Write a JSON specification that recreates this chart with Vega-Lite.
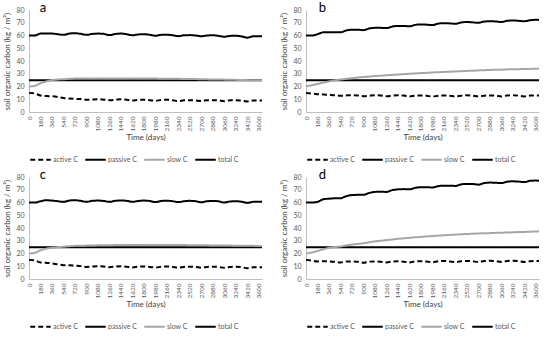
{
  "$schema": "https://vega.github.io/schema/vega-lite/v6.json",
  "padding": {"left": 3, "top": 2, "right": 2, "bottom": 0},
  "background": "white",
  "config": {
    "font": "Lato",
    "view": {"stroke": null},
    "axis": {"grid": false, "ticks": false, "domainColor": "#bfbfbf", "domainWidth": 1, "labelColor": "#595959", "labelFontSize": 7, "titleFontSize": 8, "titleFontWeight": "normal", "titleColor": "#404040"},
    "legend": {"orient": "bottom", "direction": "horizontal", "title": null, "symbolType": "stroke", "symbolSize": 420, "labelFontSize": 7, "labelColor": "#595959", "columnPadding": 3, "labelOffset": 1, "offset": 6}
  },
  "datasets": {
    "soc": [
      {"p":"a","day":0,"active C":15,"passive C":25,"slow C":20,"total C":60},
      {"p":"a","day":90,"active C":14.5,"passive C":25,"slow C":20.5,"total C":60},
      {"p":"a","day":180,"active C":13,"passive C":25,"slow C":22.5,"total C":61.5},
      {"p":"a","day":270,"active C":12.5,"passive C":25,"slow C":24,"total C":61.5},
      {"p":"a","day":360,"active C":12.3,"passive C":25,"slow C":25,"total C":61.5},
      {"p":"a","day":450,"active C":11.8,"passive C":25,"slow C":25.5,"total C":61},
      {"p":"a","day":540,"active C":11,"passive C":25,"slow C":25.7,"total C":60.5},
      {"p":"a","day":630,"active C":10.5,"passive C":25,"slow C":26,"total C":61.5},
      {"p":"a","day":720,"active C":10.3,"passive C":25,"slow C":26.2,"total C":61.8},
      {"p":"a","day":810,"active C":10.2,"passive C":25,"slow C":26.2,"total C":61.3},
      {"p":"a","day":900,"active C":9.6,"passive C":25,"slow C":26.3,"total C":60.5},
      {"p":"a","day":990,"active C":9.8,"passive C":25,"slow C":26.3,"total C":61.2},
      {"p":"a","day":1080,"active C":10,"passive C":25,"slow C":26.3,"total C":61.5},
      {"p":"a","day":1170,"active C":9.7,"passive C":25,"slow C":26.3,"total C":61.3},
      {"p":"a","day":1260,"active C":9.3,"passive C":25,"slow C":26.3,"total C":60.3},
      {"p":"a","day":1350,"active C":9.6,"passive C":25,"slow C":26.3,"total C":61.2},
      {"p":"a","day":1440,"active C":10,"passive C":25,"slow C":26.3,"total C":61.5},
      {"p":"a","day":1530,"active C":9.6,"passive C":25,"slow C":26.3,"total C":61},
      {"p":"a","day":1620,"active C":9,"passive C":25,"slow C":26.3,"total C":60.2},
      {"p":"a","day":1710,"active C":9.5,"passive C":25,"slow C":26.3,"total C":60.8},
      {"p":"a","day":1800,"active C":9.6,"passive C":25,"slow C":26.2,"total C":61},
      {"p":"a","day":1890,"active C":9.3,"passive C":25,"slow C":26.2,"total C":60.6},
      {"p":"a","day":1980,"active C":8.8,"passive C":25,"slow C":26.2,"total C":59.8},
      {"p":"a","day":2070,"active C":9.4,"passive C":25,"slow C":26.1,"total C":60.5},
      {"p":"a","day":2160,"active C":9.6,"passive C":25,"slow C":26.1,"total C":60.6},
      {"p":"a","day":2250,"active C":9.2,"passive C":25,"slow C":26,"total C":60.2},
      {"p":"a","day":2340,"active C":8.6,"passive C":25,"slow C":26,"total C":59.5},
      {"p":"a","day":2430,"active C":9.2,"passive C":25,"slow C":25.9,"total C":60.2},
      {"p":"a","day":2520,"active C":9.3,"passive C":25,"slow C":25.8,"total C":60.3},
      {"p":"a","day":2610,"active C":9.1,"passive C":25,"slow C":25.8,"total C":60},
      {"p":"a","day":2700,"active C":8.7,"passive C":25,"slow C":25.7,"total C":59.4},
      {"p":"a","day":2790,"active C":9.2,"passive C":25,"slow C":25.6,"total C":60},
      {"p":"a","day":2880,"active C":9.3,"passive C":25,"slow C":25.5,"total C":60.2},
      {"p":"a","day":2970,"active C":9.1,"passive C":25,"slow C":25.5,"total C":59.7},
      {"p":"a","day":3060,"active C":8.5,"passive C":25,"slow C":25.4,"total C":59},
      {"p":"a","day":3150,"active C":9.2,"passive C":25,"slow C":25.3,"total C":59.7},
      {"p":"a","day":3240,"active C":9.3,"passive C":25,"slow C":25.2,"total C":59.8},
      {"p":"a","day":3330,"active C":9,"passive C":25,"slow C":25.1,"total C":59.3},
      {"p":"a","day":3420,"active C":8.3,"passive C":25,"slow C":25,"total C":58.3},
      {"p":"a","day":3510,"active C":9,"passive C":25,"slow C":25,"total C":59.4},
      {"p":"a","day":3600,"active C":9,"passive C":25,"slow C":24.9,"total C":59.4},
      {"p":"a","day":3650,"active C":9,"passive C":25,"slow C":24.9,"total C":59.5},

      {"p":"b","day":0,"active C":15,"passive C":25,"slow C":20,"total C":60},
      {"p":"b","day":90,"active C":14.5,"passive C":25,"slow C":21,"total C":60},
      {"p":"b","day":180,"active C":14,"passive C":25,"slow C":22,"total C":61},
      {"p":"b","day":270,"active C":13.8,"passive C":25,"slow C":23,"total C":62.5},
      {"p":"b","day":360,"active C":13.5,"passive C":25,"slow C":24,"total C":62.5},
      {"p":"b","day":450,"active C":13.2,"passive C":25,"slow C":24.8,"total C":62.5},
      {"p":"b","day":540,"active C":12.7,"passive C":25,"slow C":25.5,"total C":62.5},
      {"p":"b","day":630,"active C":13,"passive C":25,"slow C":26,"total C":64},
      {"p":"b","day":720,"active C":13.2,"passive C":25,"slow C":26.5,"total C":64.5},
      {"p":"b","day":810,"active C":13,"passive C":25,"slow C":27,"total C":64.5},
      {"p":"b","day":900,"active C":12.4,"passive C":25,"slow C":27.5,"total C":64.2},
      {"p":"b","day":990,"active C":12.8,"passive C":25,"slow C":27.8,"total C":65.5},
      {"p":"b","day":1080,"active C":13.1,"passive C":25,"slow C":28.2,"total C":66},
      {"p":"b","day":1170,"active C":12.9,"passive C":25,"slow C":28.5,"total C":66},
      {"p":"b","day":1260,"active C":12.3,"passive C":25,"slow C":28.8,"total C":65.8},
      {"p":"b","day":1350,"active C":12.8,"passive C":25,"slow C":29.1,"total C":67},
      {"p":"b","day":1440,"active C":13.1,"passive C":25,"slow C":29.4,"total C":67.5},
      {"p":"b","day":1530,"active C":12.9,"passive C":25,"slow C":29.7,"total C":67.5},
      {"p":"b","day":1620,"active C":12.2,"passive C":25,"slow C":30,"total C":67.2},
      {"p":"b","day":1710,"active C":12.8,"passive C":25,"slow C":30.2,"total C":68.3},
      {"p":"b","day":1800,"active C":13,"passive C":25,"slow C":30.5,"total C":68.7},
      {"p":"b","day":1890,"active C":12.8,"passive C":25,"slow C":30.7,"total C":68.5},
      {"p":"b","day":1980,"active C":12.1,"passive C":25,"slow C":31,"total C":68.2},
      {"p":"b","day":2070,"active C":12.8,"passive C":25,"slow C":31.2,"total C":69.3},
      {"p":"b","day":2160,"active C":13,"passive C":25,"slow C":31.4,"total C":69.7},
      {"p":"b","day":2250,"active C":12.8,"passive C":25,"slow C":31.6,"total C":69.5},
      {"p":"b","day":2340,"active C":12.2,"passive C":25,"slow C":31.8,"total C":69.2},
      {"p":"b","day":2430,"active C":12.8,"passive C":25,"slow C":32,"total C":70.2},
      {"p":"b","day":2520,"active C":13.1,"passive C":25,"slow C":32.2,"total C":70.6},
      {"p":"b","day":2610,"active C":12.8,"passive C":25,"slow C":32.4,"total C":70.3},
      {"p":"b","day":2700,"active C":12.2,"passive C":25,"slow C":32.6,"total C":70},
      {"p":"b","day":2790,"active C":12.8,"passive C":25,"slow C":32.8,"total C":70.9},
      {"p":"b","day":2880,"active C":13,"passive C":25,"slow C":33,"total C":71.2},
      {"p":"b","day":2970,"active C":12.8,"passive C":25,"slow C":33.1,"total C":71},
      {"p":"b","day":3060,"active C":12.2,"passive C":25,"slow C":33.2,"total C":70.6},
      {"p":"b","day":3150,"active C":12.9,"passive C":25,"slow C":33.4,"total C":71.5},
      {"p":"b","day":3240,"active C":13.1,"passive C":25,"slow C":33.5,"total C":71.8},
      {"p":"b","day":3330,"active C":12.8,"passive C":25,"slow C":33.6,"total C":71.5},
      {"p":"b","day":3420,"active C":12.2,"passive C":25,"slow C":33.7,"total C":71.2},
      {"p":"b","day":3510,"active C":12.9,"passive C":25,"slow C":33.8,"total C":72},
      {"p":"b","day":3600,"active C":13,"passive C":25,"slow C":34,"total C":72.3},
      {"p":"b","day":3650,"active C":13,"passive C":25,"slow C":34,"total C":72.2},

      {"p":"c","day":0,"active C":15,"passive C":25,"slow C":20,"total C":60},
      {"p":"c","day":90,"active C":14.5,"passive C":25,"slow C":20.5,"total C":60},
      {"p":"c","day":180,"active C":13,"passive C":25,"slow C":22.5,"total C":61},
      {"p":"c","day":270,"active C":12.7,"passive C":25,"slow C":23.8,"total C":61.8},
      {"p":"c","day":360,"active C":12.3,"passive C":25,"slow C":24.5,"total C":61.5},
      {"p":"c","day":450,"active C":11.5,"passive C":25,"slow C":25,"total C":61},
      {"p":"c","day":540,"active C":10.8,"passive C":25,"slow C":25.3,"total C":60.5},
      {"p":"c","day":630,"active C":10.7,"passive C":25,"slow C":25.7,"total C":61.5},
      {"p":"c","day":720,"active C":10.4,"passive C":25,"slow C":26,"total C":61.8},
      {"p":"c","day":810,"active C":10.1,"passive C":25,"slow C":26.1,"total C":61.3},
      {"p":"c","day":900,"active C":9.5,"passive C":25,"slow C":26.2,"total C":60.5},
      {"p":"c","day":990,"active C":9.8,"passive C":25,"slow C":26.3,"total C":61.3},
      {"p":"c","day":1080,"active C":10,"passive C":25,"slow C":26.4,"total C":61.5},
      {"p":"c","day":1170,"active C":9.8,"passive C":25,"slow C":26.5,"total C":61.2},
      {"p":"c","day":1260,"active C":9.3,"passive C":25,"slow C":26.5,"total C":60.5},
      {"p":"c","day":1350,"active C":9.8,"passive C":25,"slow C":26.6,"total C":61.3},
      {"p":"c","day":1440,"active C":10,"passive C":25,"slow C":26.6,"total C":61.6},
      {"p":"c","day":1530,"active C":9.7,"passive C":25,"slow C":26.7,"total C":61.3},
      {"p":"c","day":1620,"active C":9.1,"passive C":25,"slow C":26.7,"total C":60.5},
      {"p":"c","day":1710,"active C":9.6,"passive C":25,"slow C":26.7,"total C":61.2},
      {"p":"c","day":1800,"active C":9.8,"passive C":25,"slow C":26.7,"total C":61.5},
      {"p":"c","day":1890,"active C":9.5,"passive C":25,"slow C":26.7,"total C":61.2},
      {"p":"c","day":1980,"active C":9,"passive C":25,"slow C":26.7,"total C":60.3},
      {"p":"c","day":2070,"active C":9.6,"passive C":25,"slow C":26.7,"total C":61.2},
      {"p":"c","day":2160,"active C":9.8,"passive C":25,"slow C":26.7,"total C":61.4},
      {"p":"c","day":2250,"active C":9.5,"passive C":25,"slow C":26.6,"total C":61},
      {"p":"c","day":2340,"active C":9,"passive C":25,"slow C":26.6,"total C":60.3},
      {"p":"c","day":2430,"active C":9.5,"passive C":25,"slow C":26.6,"total C":61},
      {"p":"c","day":2520,"active C":9.7,"passive C":25,"slow C":26.5,"total C":61.3},
      {"p":"c","day":2610,"active C":9.4,"passive C":25,"slow C":26.5,"total C":61},
      {"p":"c","day":2700,"active C":8.9,"passive C":25,"slow C":26.4,"total C":60.2},
      {"p":"c","day":2790,"active C":9.5,"passive C":25,"slow C":26.4,"total C":61},
      {"p":"c","day":2880,"active C":9.7,"passive C":25,"slow C":26.3,"total C":61.2},
      {"p":"c","day":2970,"active C":9.4,"passive C":25,"slow C":26.3,"total C":60.9},
      {"p":"c","day":3060,"active C":8.8,"passive C":25,"slow C":26.2,"total C":60},
      {"p":"c","day":3150,"active C":9.4,"passive C":25,"slow C":26.2,"total C":60.8},
      {"p":"c","day":3240,"active C":9.6,"passive C":25,"slow C":26.1,"total C":61},
      {"p":"c","day":3330,"active C":9.3,"passive C":25,"slow C":26.1,"total C":60.6},
      {"p":"c","day":3420,"active C":8.5,"passive C":25,"slow C":26,"total C":59.7},
      {"p":"c","day":3510,"active C":9.2,"passive C":25,"slow C":26,"total C":60.5},
      {"p":"c","day":3600,"active C":9.3,"passive C":25,"slow C":25.9,"total C":60.6},
      {"p":"c","day":3650,"active C":9.3,"passive C":25,"slow C":25.9,"total C":60.5},

      {"p":"d","day":0,"active C":15,"passive C":25,"slow C":20,"total C":60},
      {"p":"d","day":90,"active C":14.5,"passive C":25,"slow C":20.8,"total C":60},
      {"p":"d","day":180,"active C":13.8,"passive C":25,"slow C":22,"total C":60.5},
      {"p":"d","day":270,"active C":14,"passive C":25,"slow C":23.3,"total C":62.5},
      {"p":"d","day":360,"active C":13.8,"passive C":25,"slow C":24.5,"total C":63},
      {"p":"d","day":450,"active C":13.5,"passive C":25,"slow C":25,"total C":63.3},
      {"p":"d","day":540,"active C":13,"passive C":25,"slow C":25.5,"total C":63.3},
      {"p":"d","day":630,"active C":13.7,"passive C":25,"slow C":26.3,"total C":65},
      {"p":"d","day":720,"active C":13.8,"passive C":25,"slow C":27,"total C":65.8},
      {"p":"d","day":810,"active C":13.5,"passive C":25,"slow C":27.5,"total C":66},
      {"p":"d","day":900,"active C":12.8,"passive C":25,"slow C":28,"total C":66},
      {"p":"d","day":990,"active C":13.6,"passive C":25,"slow C":28.8,"total C":67.5},
      {"p":"d","day":1080,"active C":13.8,"passive C":25,"slow C":29.5,"total C":68.3},
      {"p":"d","day":1170,"active C":13.5,"passive C":25,"slow C":30,"total C":68.5},
      {"p":"d","day":1260,"active C":13,"passive C":25,"slow C":30.5,"total C":68.3},
      {"p":"d","day":1350,"active C":13.7,"passive C":25,"slow C":31,"total C":69.7},
      {"p":"d","day":1440,"active C":13.9,"passive C":25,"slow C":31.5,"total C":70.3},
      {"p":"d","day":1530,"active C":13.6,"passive C":25,"slow C":31.9,"total C":70.5},
      {"p":"d","day":1620,"active C":13,"passive C":25,"slow C":32.3,"total C":70.3},
      {"p":"d","day":1710,"active C":13.8,"passive C":25,"slow C":32.7,"total C":71.5},
      {"p":"d","day":1800,"active C":14,"passive C":25,"slow C":33,"total C":72},
      {"p":"d","day":1890,"active C":13.7,"passive C":25,"slow C":33.4,"total C":72},
      {"p":"d","day":1980,"active C":13.1,"passive C":25,"slow C":33.7,"total C":71.8},
      {"p":"d","day":2070,"active C":13.9,"passive C":25,"slow C":34,"total C":72.8},
      {"p":"d","day":2160,"active C":14.1,"passive C":25,"slow C":34.3,"total C":73.2},
      {"p":"d","day":2250,"active C":13.8,"passive C":25,"slow C":34.6,"total C":73.2},
      {"p":"d","day":2340,"active C":13.2,"passive C":25,"slow C":34.8,"total C":73},
      {"p":"d","day":2430,"active C":14,"passive C":25,"slow C":35.1,"total C":74.2},
      {"p":"d","day":2520,"active C":14.2,"passive C":25,"slow C":35.3,"total C":74.6},
      {"p":"d","day":2610,"active C":13.9,"passive C":25,"slow C":35.5,"total C":74.5},
      {"p":"d","day":2700,"active C":13.3,"passive C":25,"slow C":35.7,"total C":74},
      {"p":"d","day":2790,"active C":14.1,"passive C":25,"slow C":35.9,"total C":75.2},
      {"p":"d","day":2880,"active C":14.3,"passive C":25,"slow C":36,"total C":75.6},
      {"p":"d","day":2970,"active C":14,"passive C":25,"slow C":36.2,"total C":75.5},
      {"p":"d","day":3060,"active C":13.4,"passive C":25,"slow C":36.3,"total C":75.2},
      {"p":"d","day":3150,"active C":14.1,"passive C":25,"slow C":36.5,"total C":76.3},
      {"p":"d","day":3240,"active C":14.3,"passive C":25,"slow C":36.6,"total C":76.6},
      {"p":"d","day":3330,"active C":14,"passive C":25,"slow C":36.8,"total C":76.4},
      {"p":"d","day":3420,"active C":13.3,"passive C":25,"slow C":36.9,"total C":76},
      {"p":"d","day":3510,"active C":14,"passive C":25,"slow C":37.1,"total C":77},
      {"p":"d","day":3600,"active C":14.2,"passive C":25,"slow C":37.2,"total C":77.2},
      {"p":"d","day":3650,"active C":14.2,"passive C":25,"slow C":37.2,"total C":77}
    ]
  },
  "columns": 2,
  "spacing": {"column": 14, "row": 5},
  "resolve": {
    "scale": {"color": "independent", "strokeDash": "independent", "strokeWidth": "independent"},
    "legend": {"color": "independent", "strokeDash": "independent", "strokeWidth": "independent"}
  },
  "concat": [
    {
      "width": 233, "height": 102,
      "layer": [
        {
          "data": {"name": "soc"},
          "transform": [{"filter": "datum.p === 'a'"}, {"fold": ["active C", "passive C", "slow C", "total C"], "as": ["series", "value"]}],
          "mark": {"type": "line", "interpolate": "monotone"},
          "encoding": {
            "x": {"field": "day", "type": "quantitative", "scale": {"domain": [0, 3650], "nice": false}, "axis": {"title": "Time (days)", "format": "d", "values": [0,180,360,540,720,900,1080,1260,1440,1620,1800,1980,2160,2340,2520,2700,2880,3060,3240,3420,3600], "labelAngle": -90, "labelAlign": "right", "labelBaseline": "middle", "labelFontSize": 6.5, "labelPadding": 4, "titlePadding": 2, "labelOverlap": false}},
            "y": {"field": "value", "type": "quantitative", "scale": {"domain": [0, 80], "nice": false}, "axis": {"title": "soil organic carbon (kg / m²)", "values": [0,10,20,30,40,50,60,70,80], "labelPadding": 5, "titlePadding": 4, "labelOverlap": false}},
            "color": {"field": "series", "type": "nominal", "scale": {"domain": ["active C", "passive C", "slow C", "total C"], "range": ["#000000", "#000000", "#a6a6a6", "#000000"]}},
            "strokeDash": {"field": "series", "type": "nominal", "scale": {"domain": ["active C", "passive C", "slow C", "total C"], "range": [[5, 3], [1, 0], [1, 0], [1, 0]]}},
            "strokeWidth": {"field": "series", "type": "nominal", "scale": {"domain": ["active C", "passive C", "slow C", "total C"], "range": [2, 2, 1.8, 4.5]}}
          }
        },
        {
          "data": {"values": [{"panel": "a"}]},
          "mark": {"type": "text", "align": "left", "baseline": "alphabetic", "fontSize": 13, "color": "#000000"},
          "encoding": {
            "text": {"field": "panel"},
            "x": {"datum": 170, "type": "quantitative", "scale": {"domain": [0, 3650], "nice": false}, "axis": {"title": "Time (days)", "format": "d", "values": [0,180,360,540,720,900,1080,1260,1440,1620,1800,1980,2160,2340,2520,2700,2880,3060,3240,3420,3600], "labelAngle": -90, "labelAlign": "right", "labelBaseline": "middle", "labelFontSize": 6.5, "labelPadding": 4, "titlePadding": 2, "labelOverlap": false}},
            "y": {"datum": 78.3, "type": "quantitative", "scale": {"domain": [0, 80], "nice": false}, "axis": {"title": "soil organic carbon (kg / m²)", "values": [0,10,20,30,40,50,60,70,80], "labelPadding": 5, "titlePadding": 4, "labelOverlap": false}}
          }
        }
      ]
    },
    {
      "width": 233, "height": 102,
      "layer": [
        {
          "data": {"name": "soc"},
          "transform": [{"filter": "datum.p === 'b'"}, {"fold": ["active C", "passive C", "slow C", "total C"], "as": ["series", "value"]}],
          "mark": {"type": "line", "interpolate": "monotone"},
          "encoding": {
            "x": {"field": "day", "type": "quantitative", "scale": {"domain": [0, 3650], "nice": false}, "axis": {"title": "Time (days)", "format": "d", "values": [0,180,360,540,720,900,1080,1260,1440,1620,1800,1980,2160,2340,2520,2700,2880,3060,3240,3420,3600], "labelAngle": -90, "labelAlign": "right", "labelBaseline": "middle", "labelFontSize": 6.5, "labelPadding": 4, "titlePadding": 2, "labelOverlap": false}},
            "y": {"field": "value", "type": "quantitative", "scale": {"domain": [0, 80], "nice": false}, "axis": {"title": "soil organic carbon (kg / m²)", "values": [0,10,20,30,40,50,60,70,80], "labelPadding": 5, "titlePadding": 4, "labelOverlap": false}},
            "color": {"field": "series", "type": "nominal", "scale": {"domain": ["active C", "passive C", "slow C", "total C"], "range": ["#000000", "#000000", "#a6a6a6", "#000000"]}},
            "strokeDash": {"field": "series", "type": "nominal", "scale": {"domain": ["active C", "passive C", "slow C", "total C"], "range": [[5, 3], [1, 0], [1, 0], [1, 0]]}},
            "strokeWidth": {"field": "series", "type": "nominal", "scale": {"domain": ["active C", "passive C", "slow C", "total C"], "range": [2, 2, 1.8, 4.5]}}
          }
        },
        {
          "data": {"values": [{"panel": "b"}]},
          "mark": {"type": "text", "align": "left", "baseline": "alphabetic", "fontSize": 13, "color": "#000000"},
          "encoding": {
            "text": {"field": "panel"},
            "x": {"datum": 200, "type": "quantitative", "scale": {"domain": [0, 3650], "nice": false}, "axis": {"title": "Time (days)", "format": "d", "values": [0,180,360,540,720,900,1080,1260,1440,1620,1800,1980,2160,2340,2520,2700,2880,3060,3240,3420,3600], "labelAngle": -90, "labelAlign": "right", "labelBaseline": "middle", "labelFontSize": 6.5, "labelPadding": 4, "titlePadding": 2, "labelOverlap": false}},
            "y": {"datum": 78.3, "type": "quantitative", "scale": {"domain": [0, 80], "nice": false}, "axis": {"title": "soil organic carbon (kg / m²)", "values": [0,10,20,30,40,50,60,70,80], "labelPadding": 5, "titlePadding": 4, "labelOverlap": false}}
          }
        }
      ]
    },
    {
      "width": 233, "height": 102,
      "layer": [
        {
          "data": {"name": "soc"},
          "transform": [{"filter": "datum.p === 'c'"}, {"fold": ["active C", "passive C", "slow C", "total C"], "as": ["series", "value"]}],
          "mark": {"type": "line", "interpolate": "monotone"},
          "encoding": {
            "x": {"field": "day", "type": "quantitative", "scale": {"domain": [0, 3650], "nice": false}, "axis": {"title": "Time (days)", "format": "d", "values": [0,180,360,540,720,900,1080,1260,1440,1620,1800,1980,2160,2340,2520,2700,2880,3060,3240,3420,3600], "labelAngle": -90, "labelAlign": "right", "labelBaseline": "middle", "labelFontSize": 6.5, "labelPadding": 4, "titlePadding": 2, "labelOverlap": false}},
            "y": {"field": "value", "type": "quantitative", "scale": {"domain": [0, 80], "nice": false}, "axis": {"title": "soil organic carbon (kg / m²)", "values": [0,10,20,30,40,50,60,70,80], "labelPadding": 5, "titlePadding": 4, "labelOverlap": false}},
            "color": {"field": "series", "type": "nominal", "scale": {"domain": ["active C", "passive C", "slow C", "total C"], "range": ["#000000", "#000000", "#a6a6a6", "#000000"]}},
            "strokeDash": {"field": "series", "type": "nominal", "scale": {"domain": ["active C", "passive C", "slow C", "total C"], "range": [[5, 3], [1, 0], [1, 0], [1, 0]]}},
            "strokeWidth": {"field": "series", "type": "nominal", "scale": {"domain": ["active C", "passive C", "slow C", "total C"], "range": [2, 2, 1.8, 4.5]}}
          }
        },
        {
          "data": {"values": [{"panel": "c"}]},
          "mark": {"type": "text", "align": "left", "baseline": "alphabetic", "fontSize": 13, "color": "#000000"},
          "encoding": {
            "text": {"field": "panel"},
            "x": {"datum": 170, "type": "quantitative", "scale": {"domain": [0, 3650], "nice": false}, "axis": {"title": "Time (days)", "format": "d", "values": [0,180,360,540,720,900,1080,1260,1440,1620,1800,1980,2160,2340,2520,2700,2880,3060,3240,3420,3600], "labelAngle": -90, "labelAlign": "right", "labelBaseline": "middle", "labelFontSize": 6.5, "labelPadding": 4, "titlePadding": 2, "labelOverlap": false}},
            "y": {"datum": 78.3, "type": "quantitative", "scale": {"domain": [0, 80], "nice": false}, "axis": {"title": "soil organic carbon (kg / m²)", "values": [0,10,20,30,40,50,60,70,80], "labelPadding": 5, "titlePadding": 4, "labelOverlap": false}}
          }
        }
      ]
    },
    {
      "width": 233, "height": 102,
      "layer": [
        {
          "data": {"name": "soc"},
          "transform": [{"filter": "datum.p === 'd'"}, {"fold": ["active C", "passive C", "slow C", "total C"], "as": ["series", "value"]}],
          "mark": {"type": "line", "interpolate": "monotone"},
          "encoding": {
            "x": {"field": "day", "type": "quantitative", "scale": {"domain": [0, 3650], "nice": false}, "axis": {"title": "Time (days)", "format": "d", "values": [0,180,360,540,720,900,1080,1260,1440,1620,1800,1980,2160,2340,2520,2700,2880,3060,3240,3420,3600], "labelAngle": -90, "labelAlign": "right", "labelBaseline": "middle", "labelFontSize": 6.5, "labelPadding": 4, "titlePadding": 2, "labelOverlap": false}},
            "y": {"field": "value", "type": "quantitative", "scale": {"domain": [0, 80], "nice": false}, "axis": {"title": "soil organic carbon (kg / m²)", "values": [0,10,20,30,40,50,60,70,80], "labelPadding": 5, "titlePadding": 4, "labelOverlap": false}},
            "color": {"field": "series", "type": "nominal", "scale": {"domain": ["active C", "passive C", "slow C", "total C"], "range": ["#000000", "#000000", "#a6a6a6", "#000000"]}},
            "strokeDash": {"field": "series", "type": "nominal", "scale": {"domain": ["active C", "passive C", "slow C", "total C"], "range": [[5, 3], [1, 0], [1, 0], [1, 0]]}},
            "strokeWidth": {"field": "series", "type": "nominal", "scale": {"domain": ["active C", "passive C", "slow C", "total C"], "range": [2, 2, 1.8, 4.5]}}
          }
        },
        {
          "data": {"values": [{"panel": "d"}]},
          "mark": {"type": "text", "align": "left", "baseline": "alphabetic", "fontSize": 13, "color": "#000000"},
          "encoding": {
            "text": {"field": "panel"},
            "x": {"datum": 200, "type": "quantitative", "scale": {"domain": [0, 3650], "nice": false}, "axis": {"title": "Time (days)", "format": "d", "values": [0,180,360,540,720,900,1080,1260,1440,1620,1800,1980,2160,2340,2520,2700,2880,3060,3240,3420,3600], "labelAngle": -90, "labelAlign": "right", "labelBaseline": "middle", "labelFontSize": 6.5, "labelPadding": 4, "titlePadding": 2, "labelOverlap": false}},
            "y": {"datum": 78.3, "type": "quantitative", "scale": {"domain": [0, 80], "nice": false}, "axis": {"title": "soil organic carbon (kg / m²)", "values": [0,10,20,30,40,50,60,70,80], "labelPadding": 5, "titlePadding": 4, "labelOverlap": false}}
          }
        }
      ]
    }
  ]
}
